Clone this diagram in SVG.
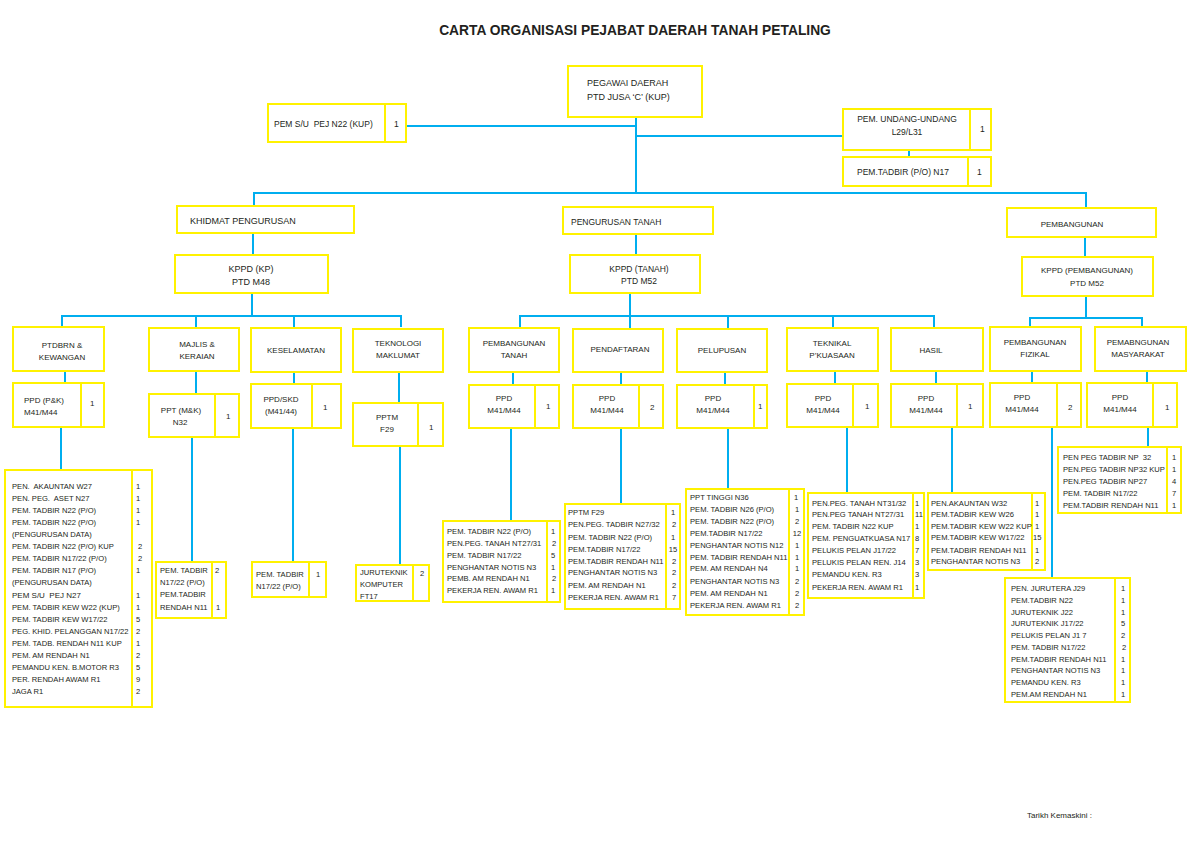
<svg xmlns="http://www.w3.org/2000/svg" width="1191" height="842" viewBox="0 0 1191 842">
<style>
.b{fill:#fff;stroke:#FFF200;stroke-width:2}
.d{stroke:#FFF200;stroke-width:2;fill:none}
.c{stroke:#00AEEF;stroke-width:2;fill:none}
text{font-family:"Liberation Sans",Arial,sans-serif;fill:#231F20;white-space:pre}
.t9{font-size:9px}
.t85{font-size:8.5px}
.t8{font-size:8px}
.l{font-size:7.6px}
.m{text-anchor:middle}
.ttl{font-size:13.8px;font-weight:bold;text-anchor:middle}
</style>
<rect width="1191" height="842" fill="#fff"/>
<text class="ttl" x="635" y="35">CARTA ORGANISASI PEJABAT DAERAH TANAH PETALING</text>

<g id="connectors">
<path class="c" d="M406,126H636M636,117V193M636,136H843M909,150V157"/>
<path class="c" d="M254,206V193H1086V208M253,233V255M636,234V255M1085,237V257"/>
<path class="c" d="M252,293V316M62,327V316H401V327M196,316V327M294,316V328"/>
<path class="c" d="M630,293V329M520,328V316H934V328M728,316V329M833,316V328"/>
<path class="c" d="M1086,296V318M1030,327V318H1142V327"/>
<path class="c" d="M65,371V383M196,371V394M294,372V384M399,372V403M513,372V385M621,372V385M725,372V385M835,371V384M936,371V384M1032,371V383M1147,371V383"/>
<path class="c" d="M61,427V470M192,437V562M293,428V562M400,446V565M511,428V521M621,428V504M728,428V489M847,427V493M952,427V493M1052,427V578M1148,427V447"/>
</g>

<g id="pegawai-daerah">
<rect class="b" x="568" y="66" width="134" height="51"/>
<text class="t9" x="587" y="86">PEGAWAI DAERAH</text>
<text class="t9" x="587" y="100">PTD JUSA ‘C’ (KUP)</text>
</g>
<g id="pem-su-pej">
<rect class="b" x="268" y="104" width="138" height="38"/>
<path class="d" d="M385,104V142"/>
<text class="t85" x="274" y="127">PEM S/U  PEJ N22 (KUP)</text>
<text class="t85" x="394" y="127">1</text>
</g>
<g id="pem-undang">
<rect class="b" x="843" y="109" width="148" height="41"/>
<path class="d" d="M970,109V150"/>
<text class="t85 m" x="907" y="122">PEM. UNDANG-UNDANG</text>
<text class="t85 m" x="907" y="135">L29/L31</text>
<text class="t85" x="980" y="132">1</text>
</g>
<g id="pem-tadbir-po">
<rect class="b" x="843" y="157" width="148" height="29"/>
<path class="d" d="M968,157V186"/>
<text class="t85" x="857" y="175">PEM.TADBIR (P/O) N17</text>
<text class="t85" x="977" y="175">1</text>
</g>

<g id="khidmat">
<rect class="b" x="177" y="206" width="177" height="27"/>
<text class="t9" x="190" y="224">KHIDMAT PENGURUSAN</text>
</g>
<g id="pengurusan-tanah">
<rect class="b" x="563" y="207" width="150" height="27"/>
<text class="t85" x="571" y="225">PENGURUSAN TANAH</text>
</g>
<g id="pembangunan">
<rect class="b" x="1007" y="208" width="149" height="29"/>
<text class="t8 m" x="1072" y="227">PEMBANGUNAN</text>
</g>

<g id="kppd-kp">
<rect class="b" x="175" y="255" width="153" height="38"/>
<text class="t9 m" x="251" y="272">KPPD (KP)</text>
<text class="t9 m" x="251" y="285">PTD M48</text>
</g>
<g id="kppd-tanah">
<rect class="b" x="570" y="255" width="130" height="38"/>
<text class="t85 m" x="639" y="272">KPPD (TANAH)</text>
<text class="t85 m" x="639" y="284">PTD M52</text>
</g>
<g id="kppd-pemb">
<rect class="b" x="1022" y="257" width="131" height="39"/>
<text class="t8 m" x="1087" y="273">KPPD (PEMBANGUNAN)</text>
<text class="t8 m" x="1087" y="286">PTD M52</text>
</g>

<g id="ptdbrn">
<rect class="b" x="13" y="327" width="91" height="44"/>
<text class="t8 m" x="62" y="348">PTDBRN &amp;</text>
<text class="t8 m" x="62" y="360">KEWANGAN</text>
</g>
<g id="majlis">
<rect class="b" x="149" y="328" width="90" height="43"/>
<text class="t8 m" x="197" y="347">MAJLIS &amp;</text>
<text class="t8 m" x="197" y="359">KERAIAN</text>
</g>
<g id="keselamatan">
<rect class="b" x="251" y="328" width="90" height="44"/>
<text class="t8 m" x="296" y="353">KESELAMATAN</text>
</g>
<g id="teknologi">
<rect class="b" x="353" y="329" width="90" height="43"/>
<text class="t8 m" x="398" y="346">TEKNOLOGI</text>
<text class="t8 m" x="398" y="358">MAKLUMAT</text>
</g>
<g id="pemb-tanah">
<rect class="b" x="469" y="328" width="90" height="44"/>
<text class="t8 m" x="514" y="346">PEMBANGUNAN</text>
<text class="t8 m" x="514" y="358">TANAH</text>
</g>
<g id="pendaftaran">
<rect class="b" x="573" y="329" width="90" height="43"/>
<text class="t8 m" x="620" y="352">PENDAFTARAN</text>
</g>
<g id="pelupusan">
<rect class="b" x="677" y="329" width="90" height="43"/>
<text class="t8 m" x="722" y="353">PELUPUSAN</text>
</g>
<g id="teknikal">
<rect class="b" x="787" y="328" width="91" height="43"/>
<text class="t8 m" x="832" y="346">TEKNIKAL</text>
<text class="t8 m" x="832" y="358">P’KUASAAN</text>
</g>
<g id="hasil">
<rect class="b" x="891" y="328" width="92" height="43"/>
<text class="t8 m" x="931" y="353">HASIL</text>
</g>
<g id="fizikal">
<rect class="b" x="990" y="327" width="91" height="44"/>
<text class="t8 m" x="1035" y="345">PEMBANGUNAN</text>
<text class="t8 m" x="1035" y="357">FIZIKAL</text>
</g>
<g id="masyarakat">
<rect class="b" x="1095" y="327" width="91" height="44"/>
<text class="t8 m" x="1138" y="345">PEMABNGUNAN</text>
<text class="t8 m" x="1138" y="357">MASYARAKAT</text>
</g>

<g id="ppd-pk">
<rect class="b" x="13" y="383" width="91" height="44"/>
<path class="d" d="M81,383V427"/>
<text class="t8" x="24" y="403">PPD (P&amp;K)</text>
<text class="t8" x="24" y="415">M41/M44</text>
<text class="t8" x="90" y="406">1</text>
</g>
<g id="ppt-mk">
<rect class="b" x="149" y="394" width="90" height="43"/>
<path class="d" d="M215,394V437"/>
<text class="t8 m" x="181" y="413">PPT (M&amp;K)</text>
<text class="t8 m" x="180" y="425">N32</text>
<text class="t8" x="226" y="419">1</text>
</g>
<g id="ppd-skd">
<rect class="b" x="251" y="384" width="90" height="44"/>
<path class="d" d="M312,384V428"/>
<text class="t8 m" x="281" y="402">PPD/SKD</text>
<text class="t8 m" x="281" y="414">(M41/44)</text>
<text class="t8" x="323" y="410">1</text>
</g>
<g id="pptm">
<rect class="b" x="353" y="403" width="90" height="43"/>
<path class="d" d="M418,403V446"/>
<text class="t8 m" x="387" y="420">PPTM</text>
<text class="t8 m" x="387" y="432">F29</text>
<text class="t8" x="429" y="430">1</text>
</g>
<g id="ppd-pemb-tanah">
<rect class="b" x="469" y="385" width="90" height="43"/>
<path class="d" d="M535,385V428"/>
<text class="t8 m" x="504" y="401">PPD</text>
<text class="t8 m" x="504" y="413">M41/M44</text>
<text class="t8" x="546" y="409">1</text>
</g>
<g id="ppd-pendaftaran">
<rect class="b" x="573" y="385" width="90" height="43"/>
<path class="d" d="M639,385V428"/>
<text class="t8 m" x="607" y="401">PPD</text>
<text class="t8 m" x="607" y="413">M41/M44</text>
<text class="t8" x="650" y="410">2</text>
</g>
<g id="ppd-pelupusan">
<rect class="b" x="677" y="385" width="90" height="43"/>
<path class="d" d="M754,385V428"/>
<text class="t8 m" x="713" y="401">PPD</text>
<text class="t8 m" x="713" y="413">M41/M44</text>
<text class="t8" x="758" y="409">1</text>
</g>
<g id="ppd-teknikal">
<rect class="b" x="787" y="384" width="91" height="43"/>
<path class="d" d="M853,384V427"/>
<text class="t8 m" x="823" y="401">PPD</text>
<text class="t8 m" x="823" y="413">M41/M44</text>
<text class="t8" x="865" y="409">1</text>
</g>
<g id="ppd-hasil">
<rect class="b" x="891" y="384" width="92" height="43"/>
<path class="d" d="M957,384V427"/>
<text class="t8 m" x="926" y="401">PPD</text>
<text class="t8 m" x="926" y="413">M41/M44</text>
<text class="t8" x="968" y="409">1</text>
</g>
<g id="ppd-fizikal">
<rect class="b" x="990" y="383" width="91" height="44"/>
<path class="d" d="M1057,383V427"/>
<text class="t8 m" x="1022" y="400">PPD</text>
<text class="t8 m" x="1022" y="412">M41/M44</text>
<text class="t8" x="1068" y="410">2</text>
</g>
<g id="ppd-masyarakat">
<rect class="b" x="1087" y="383" width="90" height="44"/>
<path class="d" d="M1153,383V427"/>
<text class="t8 m" x="1120" y="400">PPD</text>
<text class="t8 m" x="1120" y="412">M41/M44</text>
<text class="t8" x="1165" y="410">1</text>
</g>

<g id="list-ptdbrn">
<rect class="b" x="5" y="470" width="147" height="237"/>
<path class="d" d="M132,470V707"/>
<text class="l" x="12" y="489">PEN.  AKAUNTAN W27</text>
<text class="l" x="12" y="501">PEN. PEG.  ASET N27</text>
<text class="l" x="12" y="513">PEM. TADBIR N22 (P/O)</text>
<text class="l" x="12" y="525">PEM. TADBIR N22 (P/O)</text>
<text class="l" x="12" y="537">(PENGURUSAN DATA)</text>
<text class="l" x="12" y="549">PEM. TADBIR N22 (P/O) KUP</text>
<text class="l" x="12" y="561">PEM. TADBIR N17/22 (P/O)</text>
<text class="l" x="12" y="573">PEM. TADBIR N17 (P/O)</text>
<text class="l" x="12" y="585">(PENGURUSAN DATA)</text>
<text class="l" x="12" y="598" style="font-size:8px">PEM S/U  PEJ N27</text>
<text class="l" x="12" y="610">PEM. TADBIR KEW W22 (KUP)</text>
<text class="l" x="12" y="622">PEM. TADBIR KEW W17/22</text>
<text class="l" x="12" y="634">PEG. KHID. PELANGGAN N17/22</text>
<text class="l" x="12" y="646">PEM. TADB. RENDAH N11 KUP</text>
<text class="l" x="12" y="658">PEM. AM RENDAH N1</text>
<text class="l" x="12" y="670">PEMANDU KEN. B.MOTOR R3</text>
<text class="l" x="12" y="682">PER. RENDAH AWAM R1</text>
<text class="l" x="12" y="694">JAGA R1</text>
<text class="l" x="136" y="489">1</text>
<text class="l" x="136" y="501">1</text>
<text class="l" x="136" y="513">1</text>
<text class="l" x="136" y="525">1</text>
<text class="l" x="138" y="549">2</text>
<text class="l" x="138" y="561">2</text>
<text class="l" x="136" y="573">1</text>
<text class="l" x="136" y="598">1</text>
<text class="l" x="136" y="610">1</text>
<text class="l" x="136" y="622">5</text>
<text class="l" x="136" y="634">2</text>
<text class="l" x="136" y="646">1</text>
<text class="l" x="136" y="658">2</text>
<text class="l" x="136" y="670">5</text>
<text class="l" x="136" y="682">9</text>
<text class="l" x="136" y="694">2</text>
</g>

<g id="list-majlis">
<rect class="b" x="156" y="562" width="70" height="56"/>
<path class="d" d="M212,562V618"/>
<text class="l" x="160" y="573">PEM. TADBIR</text>
<text class="l" x="160" y="585">N17/22 (P/O)</text>
<text class="l" x="160" y="597">PEM.TADBIR</text>
<text class="l" x="160" y="610">RENDAH N11</text>
<text class="l" x="215" y="573">2</text>
<text class="l" x="216" y="610">1</text>
</g>
<g id="list-keselamatan">
<rect class="b" x="252" y="562" width="74" height="35"/>
<path class="d" d="M309,562V597"/>
<text class="l" x="256" y="577">PEM. TADBIR</text>
<text class="l" x="256" y="589">N17/22 (P/O)</text>
<text class="l" x="316" y="577">1</text>
</g>
<g id="list-teknologi">
<rect class="b" x="356" y="565" width="73" height="36"/>
<path class="d" d="M413,565V601"/>
<text class="l" x="360" y="575">JURUTEKNIK</text>
<text class="l" x="360" y="587">KOMPUTER</text>
<text class="l" x="360" y="599">FT17</text>
<text class="l" x="420" y="576">2</text>
</g>

<g id="list-pemb-tanah">
<rect class="b" x="443" y="521" width="117" height="81"/>
<path class="d" d="M547,521V602"/>
<text class="l" x="447" y="534">PEM. TADBIR N22 (P/O)</text>
<text class="l" x="447" y="546">PEN.PEG. TANAH NT27/31</text>
<text class="l" x="447" y="558">PEM. TADBIR N17/22</text>
<text class="l" x="447" y="570">PENGHANTAR NOTIS N3</text>
<text class="l" x="447" y="581">PEMB. AM RENDAH N1</text>
<text class="l" x="447" y="593">PEKERJA REN. AWAM R1</text>
<text class="l" x="551" y="534">1</text>
<text class="l" x="552" y="546">2</text>
<text class="l" x="551" y="558">5</text>
<text class="l" x="551" y="570">1</text>
<text class="l" x="552" y="581">2</text>
<text class="l" x="551" y="593">1</text>
</g>

<g id="list-pendaftaran">
<rect class="b" x="565" y="504" width="115" height="105"/>
<path class="d" d="M666,504V609"/>
<text class="l" x="568" y="515">PPTM F29</text>
<text class="l" x="568" y="527">PEN.PEG. TADBIR N27/32</text>
<text class="l" x="568" y="540">PEM. TADBIR N22 (P/O)</text>
<text class="l" x="568" y="552">PEM.TADBIR N17/22</text>
<text class="l" x="568" y="564">PEM.TADBIR RENDAH N11</text>
<text class="l" x="568" y="575">PENGHANTAR NOTIS N3</text>
<text class="l" x="568" y="588">PEM. AM RENDAH N1</text>
<text class="l" x="568" y="600">PEKERJA REN. AWAM R1</text>
<text class="l m" x="673" y="515">1</text>
<text class="l m" x="674" y="527">2</text>
<text class="l m" x="673" y="540">1</text>
<text class="l m" x="673" y="552">15</text>
<text class="l m" x="674" y="564">2</text>
<text class="l m" x="674" y="575">2</text>
<text class="l m" x="674" y="588">2</text>
<text class="l m" x="674" y="600">7</text>
</g>

<g id="list-pelupusan">
<rect class="b" x="686" y="489" width="118" height="126"/>
<path class="d" d="M789,489V615"/>
<text class="l" x="690" y="500">PPT TINGGI N36</text>
<text class="l" x="690" y="512">PEM. TADBIR N26 (P/O)</text>
<text class="l" x="690" y="524">PEM. TADBIR N22 (P/O)</text>
<text class="l" x="690" y="536">PEM.TADBIR N17/22</text>
<text class="l" x="690" y="548">PENGHANTAR NOTIS N12</text>
<text class="l" x="690" y="560">PEM. TADBIR RENDAH N11</text>
<text class="l" x="690" y="571">PEM. AM RENDAH N4</text>
<text class="l" x="690" y="584">PENGHANTAR NOTIS N3</text>
<text class="l" x="690" y="596">PEM. AM RENDAH N1</text>
<text class="l" x="690" y="608">PEKERJA REN. AWAM R1</text>
<text class="l m" x="796" y="500">1</text>
<text class="l m" x="797" y="512">1</text>
<text class="l m" x="797" y="524">2</text>
<text class="l m" x="797" y="536">12</text>
<text class="l m" x="797" y="548">1</text>
<text class="l m" x="797" y="560">1</text>
<text class="l m" x="797" y="571">1</text>
<text class="l m" x="797" y="584">2</text>
<text class="l m" x="797" y="596">2</text>
<text class="l m" x="797" y="608">2</text>
</g>

<g id="list-teknikal">
<rect class="b" x="808" y="493" width="116" height="105"/>
<path class="d" d="M913,493V598"/>
<text class="l" x="812" y="506">PEN.PEG. TANAH NT31/32</text>
<text class="l" x="812" y="517">PEN.PEG TANAH NT27/31</text>
<text class="l" x="812" y="529">PEM. TADBIR N22 KUP</text>
<text class="l" x="812" y="541">PEM. PENGUATKUASA N17</text>
<text class="l" x="812" y="553">PELUKIS PELAN J17/22</text>
<text class="l" x="812" y="565">PELUKIS PELAN REN. J14</text>
<text class="l" x="812" y="577">PEMANDU KEN. R3</text>
<text class="l" x="812" y="590">PEKERJA REN. AWAM R1</text>
<text class="l" x="915" y="506">1</text>
<text class="l" x="915" y="517">11</text>
<text class="l" x="915" y="529">1</text>
<text class="l" x="915" y="541">8</text>
<text class="l" x="915" y="553">7</text>
<text class="l" x="915" y="565">3</text>
<text class="l" x="915" y="577">3</text>
<text class="l" x="915" y="590">1</text>
</g>

<g id="list-hasil">
<rect class="b" x="928" y="493" width="117" height="77"/>
<path class="d" d="M1032,493V570"/>
<text class="l" x="931" y="506">PEN.AKAUNTAN W32</text>
<text class="l" x="931" y="517">PEM.TADBIR KEW W26</text>
<text class="l" x="931" y="529">PEM.TADBIR KEW W22 KUP</text>
<text class="l" x="931" y="540">PEM.TADBIR KEW W17/22</text>
<text class="l" x="931" y="553">PEM.TADBIR RENDAH N11</text>
<text class="l" x="931" y="564">PENGHANTAR NOTIS N3</text>
<text class="l" x="1035" y="506">1</text>
<text class="l" x="1035" y="517">1</text>
<text class="l" x="1035" y="529">1</text>
<text class="l" x="1033" y="540">15</text>
<text class="l" x="1035" y="553">1</text>
<text class="l" x="1035" y="564">2</text>
</g>

<g id="list-masyarakat">
<rect class="b" x="1058" y="447" width="123" height="66"/>
<path class="d" d="M1167,447V513"/>
<text class="l" x="1063" y="460">PEN PEG TADBIR NP  32</text>
<text class="l" x="1063" y="472">PEN.PEG TADBIR NP32 KUP</text>
<text class="l" x="1063" y="484">PEN.PEG TADBIR NP27</text>
<text class="l" x="1063" y="496">PEM. TADBIR N17/22</text>
<text class="l" x="1063" y="508">PEM.TADBIR RENDAH N11</text>
<text class="l m" x="1174" y="460">1</text>
<text class="l m" x="1174" y="472">1</text>
<text class="l m" x="1174" y="484">4</text>
<text class="l m" x="1174" y="496">7</text>
<text class="l m" x="1174" y="508">1</text>
</g>

<g id="list-fizikal">
<rect class="b" x="1005" y="578" width="125" height="124"/>
<path class="d" d="M1115,578V702"/>
<text class="l" x="1011" y="591">PEN. JURUTERA J29</text>
<text class="l" x="1011" y="603">PEM.TADBIR N22</text>
<text class="l" x="1011" y="615">JURUTEKNIK J22</text>
<text class="l" x="1011" y="626">JURUTEKNIK J17/22</text>
<text class="l" x="1011" y="638">PELUKIS PELAN J1 7</text>
<text class="l" x="1011" y="650">PEM. TADBIR N17/22</text>
<text class="l" x="1011" y="662">PEM.TADBIR RENDAH N11</text>
<text class="l" x="1011" y="673">PENGHANTAR NOTIS N3</text>
<text class="l" x="1011" y="685">PEMANDU KEN. R3</text>
<text class="l" x="1011" y="697">PEM.AM RENDAH N1</text>
<text class="l m" x="1123" y="591">1</text>
<text class="l m" x="1123" y="603">1</text>
<text class="l m" x="1123" y="615">1</text>
<text class="l m" x="1123" y="626">5</text>
<text class="l m" x="1123" y="638">2</text>
<text class="l m" x="1124" y="650">2</text>
<text class="l m" x="1123" y="662">1</text>
<text class="l m" x="1123" y="673">1</text>
<text class="l m" x="1123" y="685">1</text>
<text class="l m" x="1123" y="697">1</text>
</g>

<text class="t8" x="1027" y="818">Tarikh Kemaskini :</text>
</svg>
